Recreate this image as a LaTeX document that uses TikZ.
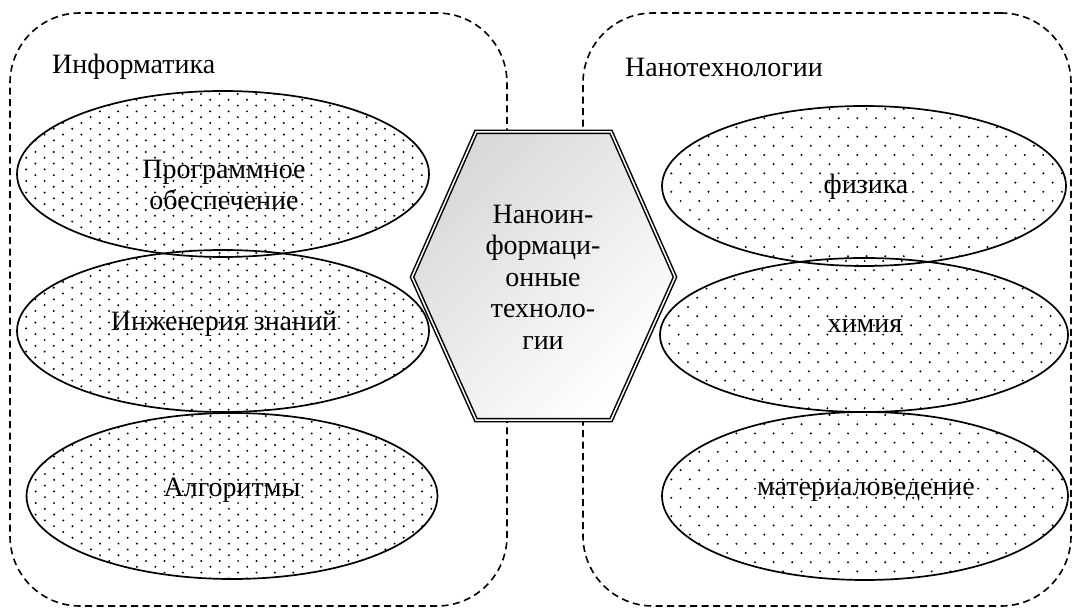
\documentclass[tikz,border=0pt]{standalone}
\usepackage{fontspec}
\setmainfont{Liberation Serif}
\usetikzlibrary{shapes.geometric}
\begin{document}
\begin{tikzpicture}[x=1pt,y=-1pt,
  zone/.style={draw, line width=1.6pt, dash pattern=on 7pt off 4.5pt, rounded corners=70pt, inner sep=0pt},
  el/.style n args={4}{ellipse, draw, line width=1.7pt, inner sep=0pt,
    minimum width=#1pt, minimum height=#2pt,
    path picture={
      \foreach \ii in {0,...,40}{
        \pgfmathsetmacro\off{mod(\ii,2)*#3/2}
        \foreach \jj in {0,...,24}{
          \fill ([xshift=\jj*#3pt+\off pt, yshift=-\ii*#4pt-3pt]path picture bounding box.north west) circle (1.1pt);
        }
      }
    }},
  txt/.style={font=\fontsize{28}{31.5}\selectfont, align=center, inner sep=0pt},
  hexs/.style={draw, line width=1.5pt, double=white, double distance=1.5pt,
    top color=black!15, bottom color=white, shading angle=45}
]
\useasboundingbox (0,0) rectangle (1073,609);

\node[zone, minimum width=497pt, minimum height=593pt] (zinf) at (258.5,309.5) {};
\node[zone, minimum width=488pt, minimum height=593pt] (znano) at (827,309.5) {};

\node[txt, anchor=west] (linf) at (52,67) {Информатика};
\node[txt, anchor=west] (lnano) at (625,67) {Нанотехнологии};

\node[el={412}{166}{18.4}{5.8}] (e1) at (223,174) {};
\node[el={412}{162}{18.4}{5.8}] (e2) at (223,331) {};
\node[el={411}{166}{18.4}{5.8}] (e3) at (232,496) {};
\node[el={404}{160}{18.6}{9.2}] (e4) at (864,186) {};
\node[el={408}{154}{18.6}{9.2}] (e5) at (864,335) {};
\node[el={406}{168}{18.6}{9.2}] (e6) at (865,496) {};

\node[txt] (t1) at (224,185) {Программное\\обеспечение};
\node[txt] (t2) at (224,324) {Инженерия знаний};
\node[txt] (t3) at (232,490) {Алгоритмы};
\node[txt] (t4) at (866,187) {физика};
\node[txt] (t5) at (865,326) {химия};
\node[txt] (t6) at (866,492) {материаловедение};

\coordinate (h1) at (476,132);
\coordinate (h2) at (611,132);
\coordinate (h3) at (675,277);
\coordinate (h4) at (611,420);
\coordinate (h5) at (476,420);
\coordinate (h6) at (412,277);
\draw[hexs] (h1) -- (h2) -- (h3) -- (h4) -- (h5) -- (h6) -- cycle;
\node[txt] (hx) at (543,277) {Наноин-\\формаци-\\онные\\техноло-\\гии};
\end{tikzpicture}
\end{document}
